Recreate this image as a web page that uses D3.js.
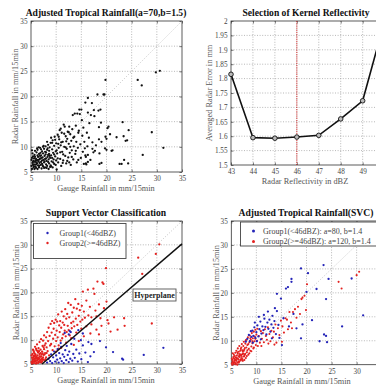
<!DOCTYPE html>
<html><head><meta charset="utf-8">
<script src="https://cdn.jsdelivr.net/npm/d3@7"></script>
<style>body{margin:0;background:#fff}svg{display:block}</style>
</head><body>
<script>
// ---------- DATA ----------
const rainTicks = [5,10,15,20,25,30,35];
const rainTicksCut = [5,10,15,20,25,30];
const dbzTicks = [43,44,45,46,47,48,49,50];
const dbzTicksCut = [43,44,45,46,47,48,49];
const errTicks = [1.5,1.55,1.6,1.65,1.7,1.75,1.8,1.85,1.9,1.95,2];
const kernelDbz = [43,44,45,46,47,48,49,50];
const kernelErr = [1.815,1.595,1.593,1.597,1.603,1.66,1.723,2.0];
const chosenDbz = 46;
const hyperplane = [[7.2,5],[35,30.2]];

// Panel 1: gauge vs adjusted radar (a=70, b=1.5)
const adjPoints = [
[5.1,6.2],[5.2,7.8],[5.3,6.8],[5.4,8.1],[5.5,5.9],[5.5,7.2],[5.6,6.5],[5.7,8.4],[5.8,7.0],[5.9,6.1],[6.0,7.6],[6.0,5.8],[6.1,8.9],[6.2,6.7],[6.2,7.3],[6.3,9.4],[6.4,6.3],[6.4,8.0],[6.5,7.1],[6.6,5.9],[6.6,8.6],[6.7,6.8],[6.8,7.7],[6.8,9.8],[6.9,6.4],[7.0,8.3],[7.0,7.0],[7.1,5.7],[7.2,9.1],[7.2,6.6],[7.3,7.9],[7.4,8.7],[7.4,6.1],[7.5,7.4],[7.6,9.6],[7.6,6.9],[7.7,8.2],[7.8,5.9],[7.8,7.6],[7.9,10.1],[8.0,6.5],[8.0,8.9],[8.1,7.2],[8.2,9.4],[8.2,6.2],[8.3,8.0],[8.4,10.4],[8.4,7.0],[8.5,5.6],[8.6,8.6],[8.6,6.7],[8.7,9.9],[8.8,7.8],[8.9,6.3],[8.9,10.8],[9.0,8.3],[9.1,7.1],[9.2,9.5],[9.3,5.9],[9.3,11.3],[9.4,8.8],[9.5,7.5],[9.6,10.2],[9.6,6.6],[9.7,12.0],[9.8,8.1],[9.9,9.1],[10.0,7.3],[10.0,10.7],[10.1,5.5],
[5.1,7.4],[5.2,5.6],[5.3,8.7],[5.4,6.4],[5.6,7.7],[5.7,5.6],[5.8,9.2],[5.9,7.3],[6.1,6.9],[6.3,5.6],[6.3,8.3],[6.5,9.9],[6.7,7.5],[6.9,8.8],[7.1,7.8],[7.3,6.3],[7.5,10.2],[7.7,7.1],[7.9,8.5],[8.1,5.8],[8.3,9.7],[8.5,7.5],[8.7,8.2],[9.0,6.1],[9.2,10.8],
[5.2,9.3],[5.4,7.0],[5.6,6.1],[5.8,8.0],[6.0,6.5],[6.2,9.7],[6.4,7.4],[6.6,6.2],[6.8,8.2],[7.0,9.5],[7.2,7.3],[7.4,10.0],[7.6,5.8],[7.8,9.0],[8.0,7.7],[8.2,11.0],[8.4,8.4],[8.6,9.2],[8.8,6.0],[9.0,11.8],[9.2,7.8],[9.4,6.9],[9.6,8.5],[9.8,11.4],[9.9,6.4],
[10.2,8.7],[10.3,12.4],[10.4,6.9],[10.5,9.8],[10.6,11.5],[10.7,13.3],[10.8,7.6],[10.9,10.3],[11.0,6.2],[11.1,12.8],[11.2,9.0],[11.3,11.0],[11.4,7.3],[11.5,14.4],[11.6,10.0],[11.7,14.0],[11.8,8.2],[11.9,12.1],[12.0,6.7],[12.1,9.6],[12.2,11.6],[12.3,13.0],[12.4,7.9],[12.5,10.6],[12.6,14.0],[12.7,8.8],[12.8,12.5],[12.9,6.4],[13.0,11.2],[13.1,9.3],[13.2,13.5],[13.3,16.3],[13.4,7.5],[13.5,10.1],[13.6,12.0],[13.7,16.6],[13.8,8.6],[13.9,14.2],[14.0,11.0],[14.1,6.9],[14.2,16.6],[14.3,9.8],[14.4,12.8],[14.6,17.4],[14.7,16.5],[14.8,10.5],[14.9,7.8],[15.0,17.4],[15.1,15.3],[15.2,12.2],[15.3,9.0],[15.4,13.8],[15.5,6.6],
[10.1,9.3],[10.3,7.7],[10.5,12.0],[10.8,8.9],[11.0,10.9],[11.3,6.8],[11.6,12.6],[11.9,9.9],[12.2,7.2],[12.5,12.9],[12.8,10.0],[13.1,8.0],[10.4,10.6],[10.9,13.6],[11.4,8.5],[12.0,11.1],[12.6,6.9],[13.4,11.8],[13.9,9.2],[14.4,7.4],
[15.7,9.7],[15.8,18.8],[15.8,8.3],[15.9,8.0],[15.9,6.7],[16.0,6.5],[16.2,10.1],[16.3,19.7],[16.3,16.8],[16.3,8.4],[16.3,7.0],[16.5,11.8],[16.6,14.7],[16.9,16.3],[17.1,18.7],[17.2,9.6],[17.2,10.9],[17.4,8.9],[17.5,17.3],[17.6,16.1],[17.7,9.2],[18.2,20.4],[18.4,17.2],[18.5,13.9],[18.5,11.5],[18.6,6.6],[18.6,8.7],[18.8,17.4],[19.0,11.0],[19.0,6.8],[19.4,20.4],[19.6,20.4],[19.7,9.7],[19.8,23.3],[19.8,12.0],[20.0,11.6],[20.0,9.4],[20.2,13.7],[20.4,14.0],
[20.7,12.5],[21.0,9.2],[21.2,9.3],[22.0,11.9],[22.6,6.6],[23.0,6.6],[23.2,14.9],[23.4,12.1],[23.5,7.4],[23.8,11.2],[24.1,11.3],[24.3,6.7],[24.4,13.3],[26.2,23.3],[27.0,22.2],[27.2,8.4],[29.0,12.9],[29.8,24.8],[30.6,25.1],[31.3,9.8],
[14.5,13.2],[15.6,11.0],[16.1,12.8],[16.8,7.4],[17.9,10.3],[18.9,14.8]
];

// Panel 3: support vector classification
const svcGroup2 = [
[5.1,5.4],[5.2,6.3],[5.3,7.1],[5.3,5.8],[5.4,8.0],[5.5,6.7],[5.6,5.2],[5.6,7.5],[5.7,6.1],[5.8,8.6],[5.9,5.6],[5.9,7.0],[6.0,6.4],[6.1,7.9],[6.1,5.3],[6.2,9.1],[6.3,6.8],[6.3,5.9],[6.4,7.4],[6.5,8.3],[6.5,5.5],[6.6,6.2],[6.7,9.6],[6.7,7.1],[6.8,5.8],[6.9,8.0],[7.0,6.6],[7.0,10.2],[7.1,5.3],[7.2,7.6],[7.3,8.8],[7.3,6.0],[7.4,9.9],[7.5,6.9],[7.6,11.0],[7.6,8.1],[7.7,5.7],[7.8,7.3],[7.9,9.3],[8.0,10.6],[8.0,6.4],[8.1,8.5],[8.2,11.7],[8.3,7.7],[8.4,9.8],[8.5,12.6],[8.6,6.8],[8.7,10.9],[8.8,8.9],[8.9,13.4],
[5.1,6.8],[5.2,5.1],[5.4,6.0],[5.5,7.8],[5.7,5.5],[5.8,6.7],[6.0,5.1],[6.0,8.2],[6.2,6.1],[6.4,5.2],[6.6,7.7],[6.8,6.5],[6.9,5.4],[7.1,7.0],[7.2,5.6],[7.4,6.4],[7.5,8.5],[7.7,7.0],[7.9,6.0],[8.1,7.3],
[5.3,5.3],[5.5,6.4],[5.7,7.2],[5.9,6.2],[6.1,6.6],[6.3,7.7],[6.5,6.0],[6.7,6.6],[6.9,7.3],[7.1,6.2],[7.3,7.2],[7.5,5.9],[7.7,8.9],[5.4,5.6],[5.8,5.8],[6.2,5.7],[6.6,5.4],[7.0,5.9],[5.6,6.6],[6.4,6.3],
[9.0,9.2],[9.1,11.6],[9.2,14.0],[9.3,7.9],[9.4,10.3],[9.5,12.4],[9.6,13.6],[9.7,8.7],[9.8,11.1],[9.9,14.3],[10.0,9.8],[10.1,12.0],[10.2,13.9],[10.3,10.6],[10.4,15.4],[10.5,8.9],[10.6,13.1],[10.7,11.7],[10.8,14.0],[10.9,9.9],[11.0,12.6],[11.1,16.0],[11.2,10.4],[11.3,13.7],[11.4,11.2],[11.5,15.0],[11.6,13.2],[11.7,12.0],[11.8,16.5],[11.9,10.8],[12.0,14.5],[12.1,11.7],[12.2,15.5],[12.3,13.0],[12.4,17.8],[12.5,12.1],[12.6,14.8],[12.7,11.0],[12.9,17.4],[13.0,13.6],[13.1,12.5],[13.2,15.8],[13.4,13.9],[13.5,16.8],[13.6,12.9],[13.8,18.6],[13.9,14.5],[14.1,16.6],[14.2,13.2],[14.4,17.6],[14.5,15.1],[14.7,16.3],[14.8,13.9],[15.1,17.2],[15.2,14.3],[15.3,20.2],[15.5,16.0],[15.7,14.7],[16.0,18.3],[16.3,20.6],[16.4,15.2],[16.7,17.0],[17.0,14.8],[17.4,20.8],[17.6,19.7],[17.8,16.2],[18.0,15.0],[18.2,22.3],[18.5,17.5],[18.8,14.6],[19.2,22.1],[19.4,21.8],[19.5,16.7],[19.9,25.1],[20.0,18.1],[20.2,14.2],[20.4,13.5],[21.5,14.8],[22.2,12.2],[23.5,14.6],[23.6,13.0],[26.3,27.3],[27.1,23.9],[29.0,13.5],[29.8,28.1],[30.5,30.1],
[10.0,7.6],[10.5,8.2],[11.0,8.4],[12.0,9.5],[13.0,10.4],[14.0,11.6],[15.0,12.4],[16.0,12.9],[17.0,13.3],[18.0,12.2],[18.5,11.2],[19.0,13.0],[15.5,10.8],[14.5,9.8],[13.5,9.0],[16.8,11.4],[20.8,11.8]
];
const svcGroup1 = [
[8.2,5.3],[8.5,6.1],[8.8,5.6],[9.0,7.0],[9.2,5.2],[9.4,6.4],[9.6,7.6],[9.8,5.5],[10.0,6.8],[10.2,5.9],[10.3,8.1],[10.5,5.3],[10.6,7.3],[10.8,6.2],[11.0,8.6],[11.1,5.6],[11.3,7.0],[11.5,5.2],[11.6,6.5],[11.8,7.9],[12.0,5.8],[12.1,8.8],[12.3,6.9],[12.5,5.4],[12.6,7.6],[12.8,6.1],[13.0,9.2],[13.2,5.7],[13.4,7.1],[13.7,6.3],[14.0,8.0],[14.3,5.5],[14.6,7.2],[15.0,6.0],[15.3,8.9],[15.8,7.4],[16.3,5.4],[16.8,6.6],[17.0,9.2],[17.5,7.5],[18.7,9.8],[19.9,8.5],[21.3,7.5],[23.1,6.1],[23.3,5.9],[27.4,6.9],[31.3,8.4],[14.4,12.1],[15.3,11.4],[12.9,11.7],[12.5,11.2],[11.7,11.5],[12.7,11.9],[13.6,10.3],[14.9,10.0],[16.4,9.6],[10.9,9.4]
];

// Panel 4: adjusted tropical rainfall with SVC
const adjGroup2 = [
[5.1,5.3],[5.2,6.0],[5.3,5.6],[5.4,6.6],[5.5,5.2],[5.5,7.1],[5.6,6.2],[5.7,5.5],[5.8,7.5],[5.9,6.5],[6.0,5.8],[6.0,7.9],[6.1,6.9],[6.2,5.4],[6.3,7.3],[6.3,8.4],[6.4,6.1],[6.5,7.7],[6.6,5.7],[6.6,8.9],[6.7,6.6],[6.8,7.9],[6.9,5.9],[7.0,8.6],[7.0,7.0],[7.1,9.3],[7.2,6.2],[7.3,7.7],[7.4,8.9],[7.5,6.7],[7.5,9.8],[7.6,8.2],[7.7,7.1],[7.8,9.4],[7.9,6.4],[8.0,8.6],[8.0,10.2],[8.1,7.6],[8.2,9.1],[8.3,10.7],[8.4,7.1],[8.5,8.3],[8.6,9.7],[8.7,11.1],[8.8,7.9],[8.9,10.2],[9.0,8.8],[9.1,11.6],[9.2,9.5],[9.3,10.5],[9.4,8.4],[9.5,11.9],[9.6,9.9],[9.7,10.9],[9.8,12.3],[9.9,9.1],[10.0,11.3],[10.1,10.0],[10.2,12.5],[10.3,8.9],
[5.2,5.0],[5.3,7.4],[5.5,6.4],[5.6,5.8],[5.8,6.0],[5.9,5.3],[6.1,6.4],[6.2,7.6],[6.4,5.6],[6.5,6.7],[6.7,7.2],[6.8,6.1],[6.9,8.3],[7.1,6.6],[7.2,8.0],[7.3,5.8],[7.4,7.3],[7.6,6.0],[7.7,8.5],[7.8,7.3],[7.9,10.1],[8.1,6.8],[8.2,8.0],[8.4,9.3],[8.6,7.4],[8.8,10.5],[9.0,7.8],[9.2,9.9],[9.5,8.6],[9.8,10.4],
[5.4,5.4],[5.7,6.8],[6.0,6.2],[6.3,6.3],[6.6,6.9],[6.9,7.0],[7.2,7.2],[7.5,7.9],[5.1,6.3],[5.8,5.1],[6.2,5.0],[6.5,5.4],[7.0,6.2],[7.6,6.8],
[10.5,11.0],[10.7,9.6],[10.9,12.0],[11.1,10.4],[11.3,11.6],[11.5,9.7],[11.7,12.4],[11.9,11.0],[12.1,10.2],[12.3,12.8],[12.6,11.4],[12.8,9.9],[13.0,12.1],[13.3,10.7],[13.5,11.9],[13.8,13.4],[14.0,9.6],[14.3,12.6],[14.6,11.2],[14.9,14.2],[15.2,13.0],[15.5,11.7],[15.8,14.7],[16.1,14.4],[16.3,12.4],[16.6,16.0],[16.9,13.8],[17.3,16.0],[17.7,16.6],[18.0,14.8],[18.3,17.1],[18.7,15.6],[19.0,18.7],[19.2,19.0],[19.6,19.4],[19.9,16.4],[20.1,21.8],[13.6,9.2],[12.4,9.4],[15.1,9.8],[11.0,8.9],[17.1,12.6],
[26.4,22.3],[27.0,20.9],[30.0,23.7],[30.5,24.4]
];
const adjGroup1 = [
[7.9,9.8],[8.2,10.4],[8.5,11.2],[8.7,9.9],[9.0,10.8],[9.2,12.1],[9.4,11.0],[9.6,12.8],[9.8,10.6],[10.0,11.8],[10.2,13.2],[10.4,10.9],[10.6,12.4],[10.8,14.0],[11.0,11.5],[11.2,13.0],[11.4,12.2],[11.6,14.6],[11.8,12.9],[12.0,11.3],[12.2,13.8],[12.4,12.5],[12.6,14.4],[12.8,11.9],[13.0,13.4],[13.2,15.2],[13.4,12.7],[13.6,14.1],[13.9,11.4],[14.1,16.2],[14.1,19.8],[14.4,13.3],[14.6,10.6],[14.9,18.8],[15.1,9.1],[15.4,14.7],[15.9,20.9],[16.3,21.2],[16.5,13.0],[17.0,22.9],[17.0,22.3],[17.4,15.6],[18.0,12.6],[18.9,25.1],[18.9,10.5],[19.2,13.4],[20.0,20.2],[20.3,24.1],[21.1,14.3],[22.0,20.8],[22.6,9.9],[23.4,25.8],[23.5,11.3],[23.9,11.0],[23.9,18.7],[24.1,9.7],[24.4,22.9],[27.1,13.0],[29.0,23.0],[31.3,15.3],
[8.9,12.0],[9.3,9.6],[10.1,9.9],[10.9,10.3],[11.5,15.4],[12.3,16.1],[13.1,10.5],[13.7,16.8],[10.5,15.0],[9.7,13.8]
];

// ---------- DRAW ----------
const W = 376, H = 387;
const FONT = "'Liberation Serif','Times New Roman',serif";
const RED = "#e3211f", BLUE = "#2424b8";
const svg = d3.select("body").append("svg").attr("width", W).attr("height", H)
  .style("font-family", FONT);
svg.append("rect").attr("width", W).attr("height", H).attr("fill", "#fff");

function panel(o) {
  const x = d3.scaleLinear().domain(o.xd).range([o.left, o.right]);
  const y = d3.scaleLinear().domain(o.yd).range([o.bottom, o.top]);
  const g = svg.append("g");
  const xlab = o.xlab || o.xt;
  // grid
  const grid = g.append("g").attr("stroke", "#9a9a9a").attr("stroke-width", 0.7)
    .attr("stroke-dasharray", "1,1.6");
  o.xt.forEach(t => { if (t !== o.xd[0] && t !== o.xd[1]) grid.append("line")
    .attr("x1", x(t)).attr("x2", x(t)).attr("y1", o.top).attr("y2", o.bottom); });
  o.yt.forEach(t => { if (t !== o.yd[0] && t !== o.yd[1]) grid.append("line")
    .attr("x1", o.left).attr("x2", o.right).attr("y1", y(t)).attr("y2", y(t)); });
  // axes with inside ticks
  const tk = 2.5;
  const bx = g.append("g").attr("transform", `translate(0,${o.bottom})`)
    .call(d3.axisBottom(x).tickValues(xlab).tickSizeInner(-tk).tickSizeOuter(0).tickPadding(4).tickFormat(o.xf || d3.format("d")));
  const tx = g.append("g").attr("transform", `translate(0,${o.top})`)
    .call(d3.axisTop(x).tickValues(xlab).tickSizeInner(-tk).tickSizeOuter(0).tickFormat(""));
  const ly = g.append("g").attr("transform", `translate(${o.left},0)`)
    .call(d3.axisLeft(y).tickValues(o.yt).tickSizeInner(-tk).tickSizeOuter(0).tickPadding(3.5).tickFormat(o.yf || d3.format("d")));
  const ry = g.append("g").attr("transform", `translate(${o.right},0)`)
    .call(d3.axisRight(y).tickValues(o.yt).tickSizeInner(-tk).tickSizeOuter(0).tickFormat(""));
  [bx, tx, ly, ry].forEach(a => {
    a.select(".domain").remove();
    a.selectAll("line").attr("stroke", "#222").attr("stroke-width", 0.6);
    a.selectAll("text").attr("font-family", FONT).attr("font-size", 7.2).attr("fill", "#444");
  });
  g.append("rect").attr("x", o.left).attr("y", o.top)
    .attr("width", o.right - o.left).attr("height", o.bottom - o.top)
    .attr("fill", "none").attr("stroke", "#333").attr("stroke-width", 0.8);
  // title & labels
  svg.append("text").attr("x", o.tx).attr("y", o.top - 5).attr("text-anchor", "middle")
    .attr("font-weight", "bold").attr("font-size", 9.6).attr("fill", "#111").text(o.title);
  svg.append("text").attr("x", o.xlx).attr("y", o.bottom + 19).attr("text-anchor", "middle")
    .attr("font-size", 8.3).attr("fill", "#555").text(o.xl);
  svg.append("text").attr("transform", `translate(${o.ylx},${(o.top + o.bottom) / 2}) rotate(-90)`)
    .attr("text-anchor", "middle").attr("dy", "0.35em")
    .attr("font-size", 8.3).attr("fill", "#555").text(o.yl);
  return {x, y, g};
}

function diag(p) {
  p.g.append("line").attr("x1", p.x(5)).attr("y1", p.y(5)).attr("x2", p.x(35)).attr("y2", p.y(35))
    .attr("stroke", "#b5b5b5").attr("stroke-width", 0.8).attr("stroke-dasharray", "1,1.8");
}
function dots(p, data, color, r) {
  p.g.append("g").selectAll("circle").data(data).join("circle")
    .attr("cx", d => p.x(d[0])).attr("cy", d => p.y(d[1])).attr("r", r).attr("fill", color);
}

// Panel 1
const p1 = panel({left: 31, right: 182, top: 21, bottom: 172, xd: [5,35], yd: [5,35],
  xt: rainTicks, yt: rainTicks, tx: 106, xlx: 106, ylx: 15,
  title: "Adjusted Tropical Rainfall(a=70,b=1.5)",
  xl: "Gauge Rainfall in mm/15min", yl: "Radar Rainfall in mm/15min"});
diag(p1);
dots(p1, adjPoints, "#111", 1.15);

// Panel 2
const p2 = panel({left: 231, right: 384.6, top: 21, bottom: 165, xd: [43,50], yd: [1.5,2],
  xt: dbzTicks, xlab: dbzTicksCut, yt: errTicks, yf: d3.format("~g"), tx: 306, xlx: 305, ylx: 209,
  title: "Selection of Kernel Reflectivity",
  xl: "Radar Reflectivity in dBZ", yl: "Averaged Radar Error in mm"});
p2.g.append("line").attr("x1", p2.x(chosenDbz)).attr("x2", p2.x(chosenDbz))
  .attr("y1", 21).attr("y2", 165).attr("stroke", "#d42020").attr("stroke-width", 0.9)
  .attr("stroke-dasharray", "1.2,1");
const kdata = kernelDbz.map((d, i) => [d, kernelErr[i]]);
p2.g.append("path").datum(kdata)
  .attr("d", d3.line().x(d => p2.x(d[0])).y(d => p2.y(d[1])))
  .attr("fill", "none").attr("stroke", "#111").attr("stroke-width", 1.6);
p2.g.selectAll(".mk").data(kdata).join("circle")
  .attr("cx", d => p2.x(d[0])).attr("cy", d => p2.y(d[1])).attr("r", 2.3)
  .attr("fill", "#bbb").attr("stroke", "#111").attr("stroke-width", 0.9);

// Panel 3
const p3 = panel({left: 31, right: 182, top: 221, bottom: 364, xd: [5,35], yd: [5,35],
  xt: rainTicks, yt: rainTicks, tx: 106, xlx: 106, ylx: 16,
  title: "Support Vector Classification",
  xl: "Gauge Rainfall in mm/15min", yl: "Radar Rainfall in mm/15min"});
diag(p3);
dots(p3, svcGroup2, RED, 1.15);
dots(p3, svcGroup1, BLUE, 1.15);
p3.g.append("line").attr("x1", p3.x(hyperplane[0][0])).attr("y1", p3.y(hyperplane[0][1]))
  .attr("x2", p3.x(hyperplane[1][0])).attr("y2", p3.y(hyperplane[1][1]))
  .attr("stroke", "#111").attr("stroke-width", 1.4);
// legend
p3.g.append("rect").attr("x", 33.5).attr("y", 223.5).attr("width", 92.5).attr("height", 35)
  .attr("fill", "#fff").attr("stroke", "#444").attr("stroke-width", 0.9);
[["Group1(<46dBZ)", BLUE, 233], ["Group2(>=46dBZ)", RED, 243]].forEach(([t, c, yy]) => {
  p3.g.append("circle").attr("cx", 47.5).attr("cy", yy).attr("r", 1.2).attr("fill", c);
  p3.g.append("text").attr("x", 59.5).attr("y", yy).attr("dy", "0.35em")
    .attr("font-size", 8).attr("fill", "#444").text(t);
});
// hyperplane label
p3.g.append("rect").attr("x", 133).attr("y", 289).attr("width", 43).attr("height", 12)
  .attr("fill", "#fff").attr("stroke", "#555").attr("stroke-width", 0.9);
p3.g.append("text").attr("x", 154.5).attr("y", 295).attr("dy", "0.35em").attr("text-anchor", "middle")
  .attr("font-size", 8).attr("font-weight", "bold").attr("fill", "#222").text("Hyperplane");

// Panel 4
const p4 = panel({left: 231.3, right: 381.7, top: 221, bottom: 364.7, xd: [5,35], yd: [5,35],
  xt: rainTicks, xlab: rainTicksCut, yt: rainTicks, tx: 306, xlx: 302, ylx: 216,
  title: "Adjusted Tropical Rainfall(SVC)",
  xl: "Gauge Rainfall in mm/15min", yl: "Radar Rainfall in mm/15min"});
diag(p4);
dots(p4, adjGroup2, RED, 1.05);
dots(p4, adjGroup1, BLUE, 1.15);
p4.g.append("rect").attr("x", 240.5).attr("y", 222).attr("width", 150).attr("height", 24)
  .attr("fill", "#fff").attr("stroke", "#444").attr("stroke-width", 0.9);
[["Group1(<46dBZ): a=80, b=1.4", BLUE, 231], ["Group2(>=46dBZ): a=120, b=1.4", RED, 241.5]].forEach(([t, c, yy]) => {
  p4.g.append("circle").attr("cx", 253.5).attr("cy", yy).attr("r", 1.5).attr("fill", c);
  p4.g.append("text").attr("x", 263).attr("y", yy).attr("dy", "0.35em")
    .attr("font-size", 8).attr("fill", "#444").text(t);
});
</script>
</body></html>
